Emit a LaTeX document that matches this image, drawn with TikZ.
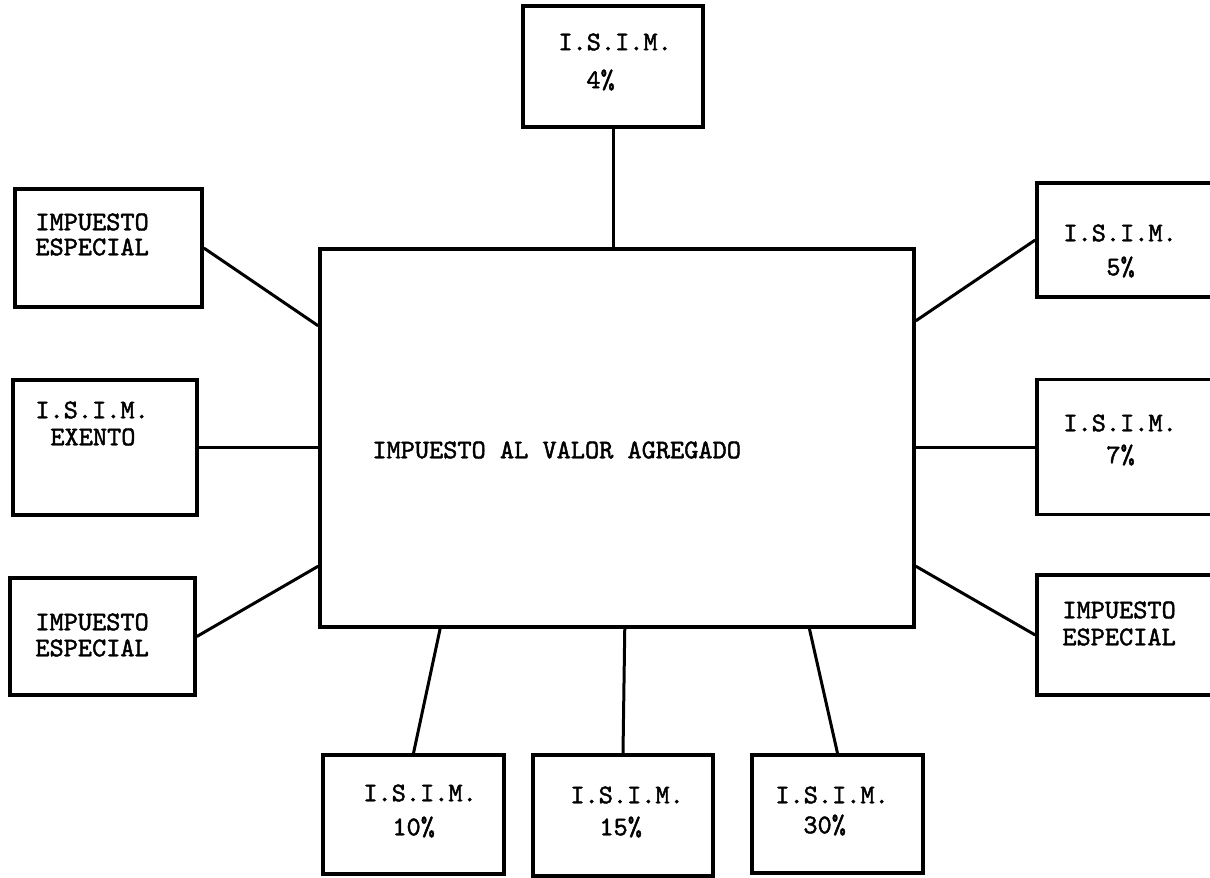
\documentclass[tikz,border=0pt]{standalone}
\usepackage{fontspec}
\newfontfamily\typew{lmmono10-regular.otf}[FakeBold=1.6]
\usetikzlibrary{calc}
\tikzset{
  box/.style={draw=black, line width=1.8pt, rectangle, inner sep=0pt, fill=white},
  conn/.style={draw=black, line width=1.5pt},
  lbl/.style={inner sep=0pt, anchor=west, font=\typew\fontsize{13.5}{15}\selectfont}
}
\begin{document}
\begin{tikzpicture}[x=0.5pt,y=-0.5pt]
\useasboundingbox (0,0) rectangle (1210,878);
\clip (0,0) rectangle (1210,878);
% central
\node[box, minimum width=297pt, minimum height=189pt] (c) at (617,438) {};
% surrounding boxes
\node[box, minimum width=90pt, minimum height=60.5pt] (top) at (613,66.5) {};
\node[box, minimum width=93.5pt, minimum height=59pt] (l1) at (108.5,248) {};
\node[box, minimum width=92pt, minimum height=67.5pt] (l2) at (105,447.5) {};
\node[box, minimum width=92.5pt, minimum height=58.5pt] (l3) at (102.5,636.5) {};
\node[box, minimum width=101.5pt, minimum height=57pt] (r1) at (1138.5,240) {};
\node[box, minimum width=101.5pt, minimum height=67.5pt] (r2) at (1138.5,447) {};
\node[box, minimum width=101.5pt, minimum height=60pt] (r3) at (1138.5,635) {};
\node[box, minimum width=90.5pt, minimum height=59.5pt] (b1) at (413.5,814.5) {};
\node[box, minimum width=90pt, minimum height=60.5pt] (b2) at (623,815.5) {};
\node[box, minimum width=85.5pt, minimum height=59pt] (b3) at (837.5,814) {};
% connectors
\draw[conn] (top.south) -- (top.south |- c.north);
\draw[conn] (l1.east) -- ($(c.north west)!0.206!(c.south west)$);
\draw[conn] (l2.east) -- (l2.east -| c.west);
\draw[conn] (l3.east) -- ($(c.north west)!0.836!(c.south west)$);
\draw[conn] (r1.west) -- ($(c.north east)!0.193!(c.south east)$);
\draw[conn] (r2.west) -- (r2.west -| c.east);
\draw[conn] (r3.west) -- ($(c.north east)!0.836!(c.south east)$);
\draw[conn] (b1.north) -- ($(c.south west)!0.204!(c.south east)$);
\draw[conn] (b2.north) -- ($(c.south west)!0.513!(c.south east)$);
\draw[conn] (b3.north) -- ($(c.south west)!0.822!(c.south east)$);
% labels
\node[lbl] (tc) at (372,450) {IMPUESTO AL VALOR AGREGADO};
\node[lbl] (t0a) at (558,42) {I.S.I.M.};
\node[lbl] (t0b) at (586,80) {4\%};
\node[lbl] (t1a) at (35,222) {IMPUESTO};
\node[lbl] (t1b) at (35,247) {ESPECIAL};
\node[lbl] (t2a) at (35,410) {I.S.I.M.};
\node[lbl] (t2b) at (50,437) {EXENTO};
\node[lbl] (t3a) at (35,622) {IMPUESTO};
\node[lbl] (t3b) at (35,648) {ESPECIAL};
\node[lbl] (t4a) at (1063,233) {I.S.I.M.};
\node[lbl] (t4b) at (1106,267) {5\%};
\node[lbl] (t5a) at (1063,423) {I.S.I.M.};
\node[lbl] (t5b) at (1106,455) {7\%};
\node[lbl] (t6a) at (1062,610) {IMPUESTO};
\node[lbl] (t6b) at (1062,637) {ESPECIAL};
\node[lbl] (t7a) at (363,793) {I.S.I.M.};
\node[lbl] (t7b) at (392,827) {10\%};
\node[lbl] (t8a) at (570,795) {I.S.I.M.};
\node[lbl] (t8b) at (599,827) {15\%};
\node[lbl] (t9a) at (775,795) {I.S.I.M.};
\node[lbl] (t9b) at (803,825) {30\%};
\end{tikzpicture}
\end{document}
